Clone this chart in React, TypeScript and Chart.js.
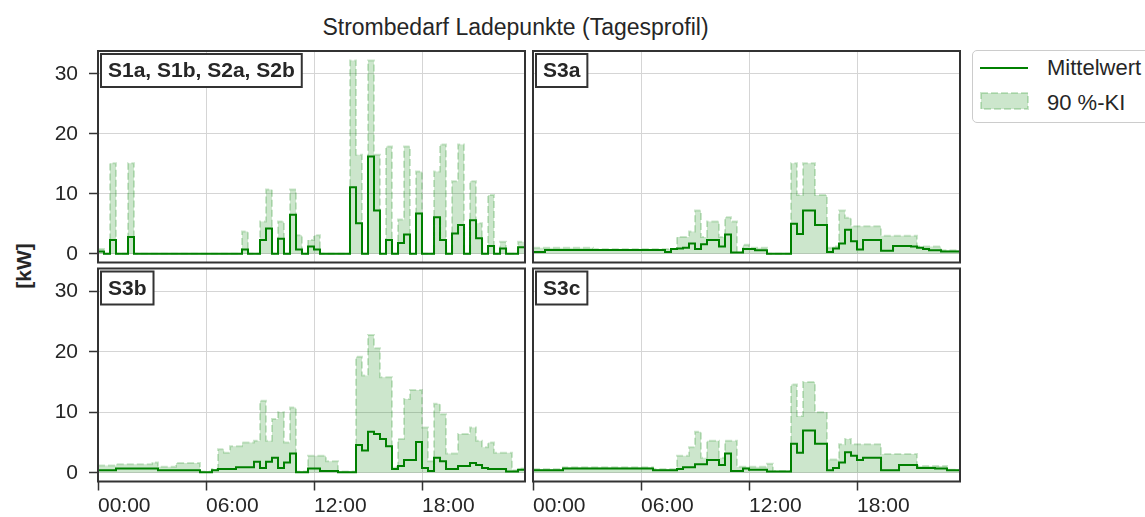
import React, { useEffect, useRef } from 'react';
import { Chart, registerables } from 'chart.js';

Chart.register(...registerables);

const FONT = '"Liberation Sans", Arial, Helvetica, sans-serif';

// 20-minute resolution: 00:00 ... 23:40 (hours)
const STEP_HOURS = 1 / 3;
const N_STEPS = 72;
const HOURS = Array.from({ length: N_STEPS }, (_, i) => i * STEP_HOURS);
const X_TICKS = [0, 6, 12, 18];
const Y_TICKS = [0, 10, 20, 30];
const X_MIN = 0;
const X_MAX = 23.72;
const Y_MIN = -1.45;
const Y_MAX = 33.8;

const TITLE = 'Strombedarf Ladepunkte (Tagesprofil)';
const Y_LABEL = '[kW]';
const LEGEND_MEAN = 'Mittelwert';
const LEGEND_CI = '90 %-KI';
const PANEL_LABELS = ['S1a, S1b, S2a, S2b', 'S3a', 'S3b', 'S3c'];

// Mean values (kW), 72 steps per panel
const MEAN_S1 = [
  0.4, 0, 2.3, 0, 0, 2.8, 0, 0, 0, 0,
  0, 0, 0, 0, 0, 0, 0, 0, 0, 0,
  0, 0, 0, 0, 0.7, 0, 0, 2.3, 4.2, 0,
  2.5, 0, 6.5, 0.7, 0, 1.2, 0.7, 0, 0, 0,
  0, 0, 11.1, 5.1, 0, 16.2, 7.2, 0, 2.3, 0,
  1.8, 3.2, 0, 6.7, 0, 0, 6.1, 2.3, 0, 3.4,
  4.8, 0, 5.6, 2.6, 0, 1.3, 0, 0.9, 0, 0,
  1.1, 1.1,
];
const UPPER_S1 = [
  0.8, 0, 15.1, 0, 0, 15.1, 0, 0, 0, 0,
  0, 0, 0, 0, 0, 0, 0, 0, 0, 0,
  0, 0, 0, 0, 3.7, 0, 0, 5.4, 10.7, 0,
  5.4, 0, 10.7, 3.1, 0, 2.3, 3.1, 0, 0, 0,
  0, 0, 32.2, 16.5, 0, 32.2, 16.5, 0, 17.9, 0,
  5.7, 17.9, 0, 13.7, 0, 0, 13.7, 18.2, 0, 12.1,
  18.2, 0, 12.1, 5.1, 0, 9.8, 0, 2.0, 0, 0,
  2.0, 2.0,
];

const MEAN_S3A = [
  0.3, 0.3, 0.65, 0.65, 0.65, 0.65, 0.65, 0.65, 0.65, 0.65,
  0.65, 0.65, 0.65, 0.65, 0.65, 0.65, 0.65, 0.65, 0.65, 0.65,
  0.65, 0.65, 0.3, 0.8, 0.9, 1.0, 1.7, 0.8, 1.6, 2.3,
  2.3, 1.2, 3.2, 0.2, 0.2, 0.8, 0.8, 0.6, 0.6, 0,
  0, 0, 0, 5.0, 3.3, 7.2, 7.2, 4.8, 4.8, 0.3,
  0.9, 1.7, 4.0, 2.1, 0.7, 2.3, 2.3, 2.3, 0.5, 0.5,
  1.3, 1.3, 1.3, 1.2, 1.0, 0.8, 0.6, 0.6, 0.4, 0.4,
  0.4, 0.4,
];
const UPPER_S3A = [
  1.0, 1.0, 1.0, 1.0, 1.0, 1.0, 1.0, 1.0, 1.0, 1.0,
  0.8, 0.8, 0.8, 0.8, 0.8, 0.8, 0.8, 0.8, 0.8, 0.8,
  0.8, 0.8, 0.8, 0.8, 2.8, 2.8, 3.7, 7.2, 2.8, 5.4,
  5.4, 2.8, 6.1, 5.4, 0.3, 1.5, 1.0, 1.0, 1.0, 0,
  0, 0, 0, 15.1, 9.8, 15.1, 15.1, 9.8, 9.8, 1.0,
  1.2, 7.2, 6.0, 4.6, 4.6, 4.6, 4.6, 4.6, 3.0, 3.0,
  3.0, 3.0, 3.0, 3.0, 1.2, 1.2, 1.2, 1.2, 0.6, 0.6,
  0.6, 0.6,
];

const MEAN_S3B = [
  0.4, 0.4, 0.4, 0.7, 0.7, 0.7, 0.7, 0.7, 0.7, 0.7,
  0.4, 0.4, 0.4, 0.4, 0.4, 0.4, 0.4, 0.1, 0.1, 0.4,
  0.6, 0.6, 0.6, 0.9, 0.9, 0.9, 1.8, 0.8, 1.8, 2.5,
  0.8, 1.7, 3.2, 0.1, 0.1, 0.7, 0.7, 0.3, 0.3, 0.3,
  0.1, 0.1, 0.1, 4.6, 3.7, 6.8, 6.4, 5.6, 4.4, 0.6,
  1.1, 2.1, 2.1, 5.1, 0.8, 0.3, 2.5, 1.9, 0.6, 0.6,
  1.1, 1.1, 1.6, 1.3, 0.8, 0.6, 0.6, 0.6, 0.2, 0.2,
  0.5, 0.5,
];
const UPPER_S3B = [
  1.2, 1.2, 1.2, 1.4, 1.4, 1.4, 1.4, 1.4, 1.4, 1.7,
  1.0, 1.0, 1.0, 1.6, 1.6, 1.6, 1.6, 0.2, 0.2, 0.6,
  3.9, 3.3, 4.4, 4.4, 5.0, 5.0, 5.3, 11.9, 5.3, 8.9,
  10.0, 5.0, 10.8, 0.2, 0.2, 2.8, 2.8, 2.8, 1.9, 1.9,
  0.2, 0.2, 0.2, 19.2, 16.1, 22.8, 20.6, 15.8, 15.8, 1.0,
  5.6, 12.2, 13.7, 13.7, 7.5, 1.9, 11.4, 9.7, 3.2, 3.2,
  6.4, 6.4, 7.5, 5.3, 4.2, 5.0, 3.3, 3.3, 3.3, 0.4,
  0.7, 0.7,
];

const MEAN_S3C = [
  0.4, 0.4, 0.4, 0.4, 0.4, 0.7, 0.7, 0.7, 0.7, 0.7,
  0.7, 0.7, 0.7, 0.7, 0.7, 0.7, 0.7, 0.7, 0.7, 0.7,
  0.4, 0.4, 0.4, 0.4, 0.6, 0.9, 0.9, 1.4, 1.4, 2.1,
  2.1, 1.3, 3.2, 0.3, 0.3, 0.7, 0.5, 0.5, 0.5, 0.2,
  0.2, 0.2, 0.2, 4.8, 3.3, 7.0, 7.0, 4.8, 4.8, 0.4,
  0.8, 1.7, 3.4, 2.8, 2.1, 2.5, 2.5, 2.5, 0.4, 0.4,
  0.4, 1.3, 1.3, 1.3, 0.8, 0.8, 0.8, 0.7, 0.7, 0.4,
  0.4, 0.4,
];
const UPPER_S3C = [
  0.6, 0.6, 0.6, 0.6, 0.6, 0.9, 0.9, 0.9, 0.9, 0.9,
  0.9, 0.9, 0.9, 0.9, 0.9, 0.9, 0.9, 0.9, 0.9, 0.9,
  0.6, 0.6, 0.6, 0.6, 2.8, 2.8, 4.2, 6.8, 2.5, 5.3,
  5.3, 2.5, 5.3, 5.3, 1.0, 1.0, 1.0, 1.0, 1.0, 1.5,
  0.3, 0.3, 0.3, 14.6, 9.4, 15.0, 15.0, 10.0, 10.0, 2.2,
  2.2, 4.7, 5.6, 4.7, 4.7, 4.7, 4.7, 4.7, 3.1, 3.1,
  3.1, 3.1, 3.1, 3.1, 1.1, 1.1, 1.1, 1.1, 1.1, 0.5,
  0.5, 0.5,
];

const MEAN_COLOR = '#008000';
const CI_COLOR = 'rgba(0,128,0,0.2)';
const GRID_COLOR = '#d5d5d5';
const SPINE_COLOR = '#333333';
const TEXT_COLOR = '#262626';

const panelDecor = {
  id: 'panelDecor',
  afterDraw(chart: any, _args: any, opts: any) {
    const { ctx, chartArea: a } = chart;
    ctx.save();
    ctx.strokeStyle = SPINE_COLOR;
    ctx.lineWidth = 2;
    ctx.strokeRect(a.left, a.top, a.right - a.left, a.bottom - a.top);
    const label = opts.label as string;
    ctx.font = `bold 21px ${FONT}`;
    const w = ctx.measureText(label).width;
    const bx = a.left + 3;
    const by = a.top + 3;
    const bw = w + 14;
    const bh = 33;
    ctx.fillStyle = '#ffffff';
    ctx.fillRect(bx, by, bw, bh);
    ctx.strokeRect(bx, by, bw, bh);
    ctx.fillStyle = TEXT_COLOR;
    ctx.textBaseline = 'middle';
    ctx.textAlign = 'left';
    ctx.fillText(label, bx + 7, by + bh / 2 + 1);
    ctx.restore();
  },
};

type PanelSpec = {
  label: string;
  mean: number[];
  upper: number[];
  left: number;
  top: number;
  width: number;
  height: number;
  showX: boolean;
  showY: boolean;
  padTop: number;
  padRight: number;
  xHeight: number;
  yWidth: number;
};

const PANELS: PanelSpec[] = [
  { label: PANEL_LABELS[0], mean: MEAN_S1, upper: UPPER_S1, left: 0, top: 46, width: 528, height: 222, showX: false, showY: true, padTop: 5, padRight: 3, xHeight: 5.5, yWidth: 98 },
  { label: PANEL_LABELS[1], mean: MEAN_S3A, upper: UPPER_S3A, left: 529, top: 46, width: 435, height: 222, showX: false, showY: false, padTop: 5, padRight: 4, xHeight: 5.5, yWidth: 4 },
  { label: PANEL_LABELS[2], mean: MEAN_S3B, upper: UPPER_S3B, left: 0, top: 263, width: 528, height: 254, showX: true, showY: true, padTop: 5.5, padRight: 3, xHeight: 35.5, yWidth: 98 },
  { label: PANEL_LABELS[3], mean: MEAN_S3C, upper: UPPER_S3C, left: 529, top: 263, width: 435, height: 254, showX: true, showY: false, padTop: 5.5, padRight: 4, xHeight: 35.5, yWidth: 4 },
];

function makeConfig(p: PanelSpec): any {
  const tickFont = { family: FONT, size: 21 };
  return {
    type: 'line',
    data: {
      datasets: [
        {
          label: LEGEND_MEAN,
          data: p.mean.map((y, i) => ({ x: HOURS[i], y })),
          borderColor: MEAN_COLOR,
          borderWidth: 2,
          stepped: true,
          pointRadius: 0,
          fill: false,
          order: 0,
        },
        {
          label: LEGEND_CI,
          data: p.upper.map((y, i) => ({ x: HOURS[i], y })),
          borderColor: CI_COLOR,
          backgroundColor: CI_COLOR,
          borderWidth: 2,
          borderDash: [7, 3],
          stepped: true,
          pointRadius: 0,
          fill: 'origin',
          order: 1,
        },
      ],
    },
    options: {
      animation: false,
      responsive: false,
      events: [],
      layout: { padding: { top: p.padTop, right: p.padRight, left: 0, bottom: 0 } },
      plugins: {
        legend: { display: false },
        tooltip: { enabled: false },
        panelDecor: { label: p.label },
      },
      scales: {
        x: {
          type: 'linear',
          min: X_MIN,
          max: X_MAX,
          afterBuildTicks: (s: any) => {
            s.ticks = X_TICKS.map((v) => ({ value: v }));
          },
          afterFit: (s: any) => {
            s.height = p.xHeight;
            s.paddingLeft = 0;
            s.paddingRight = 0;
            s.paddingTop = 0;
            s.paddingBottom = 0;
          },
          border: { display: false },
          grid: {
            color: GRID_COLOR,
            lineWidth: 1,
            drawTicks: p.showX,
            tickLength: 9,
            tickColor: SPINE_COLOR,
            tickWidth: 1.5,
          },
          ticks: {
            display: p.showX,
            align: 'start',
            padding: 3,
            maxRotation: 0,
            autoSkip: false,
            color: TEXT_COLOR,
            font: tickFont,
            callback: (v: any) => `${String(v).padStart(2, '0')}:00`,
          },
        },
        y: {
          type: 'linear',
          min: Y_MIN,
          max: Y_MAX,
          afterBuildTicks: (s: any) => {
            s.ticks = Y_TICKS.map((v) => ({ value: v }));
          },
          afterFit: (s: any) => {
            s.width = p.yWidth;
            s.paddingLeft = 0;
            s.paddingRight = 0;
            s.paddingTop = 0;
            s.paddingBottom = 0;
          },
          border: { display: false },
          grid: {
            color: GRID_COLOR,
            lineWidth: 1,
            drawTicks: p.showY,
            tickLength: 9,
            tickColor: SPINE_COLOR,
            tickWidth: 1.5,
          },
          ticks: {
            display: p.showY,
            padding: 11,
            color: TEXT_COLOR,
            font: tickFont,
            callback: (v: any) => String(v),
          },
        },
      },
    },
    plugins: [panelDecor],
  };
}

export default function App() {
  const refs = useRef<(HTMLCanvasElement | null)[]>([]);

  useEffect(() => {
    const charts = PANELS.map((p, i) => {
      const c = refs.current[i]!;
      return new Chart(c, makeConfig(p));
    });
    return () => charts.forEach((ch) => ch.destroy());
  }, []);

  return (
    <div
      style={{
        position: 'absolute',
        left: 0,
        top: 0,
        width: 1145,
        height: 517,
        overflow: 'hidden',
        background: '#ffffff',
        fontFamily: FONT,
        color: TEXT_COLOR,
      }}
    >
      <div
        style={{
          position: 'absolute',
          left: 0,
          top: 16,
          width: 1031,
          textAlign: 'center',
          fontSize: 23,
          lineHeight: '23px',
          whiteSpace: 'nowrap',
        }}
      >
        {TITLE}
      </div>
      <div
        style={{
          position: 'absolute',
          left: 23,
          top: 266,
          transform: 'translate(-50%, -50%) rotate(-90deg)',
          fontSize: 21,
          fontWeight: 'bold',
          lineHeight: '21px',
          whiteSpace: 'nowrap',
        }}
      >
        {Y_LABEL}
      </div>
      {PANELS.map((p, i) => (
        <canvas
          key={i}
          ref={(el) => {
            refs.current[i] = el;
          }}
          width={p.width}
          height={p.height}
          style={{ position: 'absolute', left: p.left, top: p.top, width: p.width, height: p.height }}
        />
      ))}
      <div
        style={{
          position: 'absolute',
          left: 972,
          top: 50,
          width: 220,
          height: 73,
          border: '1px solid #cccccc',
          borderRadius: 5,
          background: '#ffffff',
          boxSizing: 'border-box',
        }}
      />
      <div style={{ position: 'absolute', left: 980, top: 67, width: 48, height: 2, background: MEAN_COLOR }} />
      <div style={{ position: 'absolute', left: 1047, top: 57, fontSize: 22, lineHeight: '22px', whiteSpace: 'nowrap' }}>
        {LEGEND_MEAN}
      </div>
      <svg style={{ position: 'absolute', left: 979, top: 91 }} width={52} height={21}>
        <rect x={2} y={2} width={47} height={16} fill={CI_COLOR} stroke={CI_COLOR} strokeWidth={2} strokeDasharray="7 3" />
      </svg>
      <div style={{ position: 'absolute', left: 1047, top: 92, fontSize: 22, lineHeight: '22px', whiteSpace: 'nowrap' }}>
        {LEGEND_CI}
      </div>
    </div>
  );
}
